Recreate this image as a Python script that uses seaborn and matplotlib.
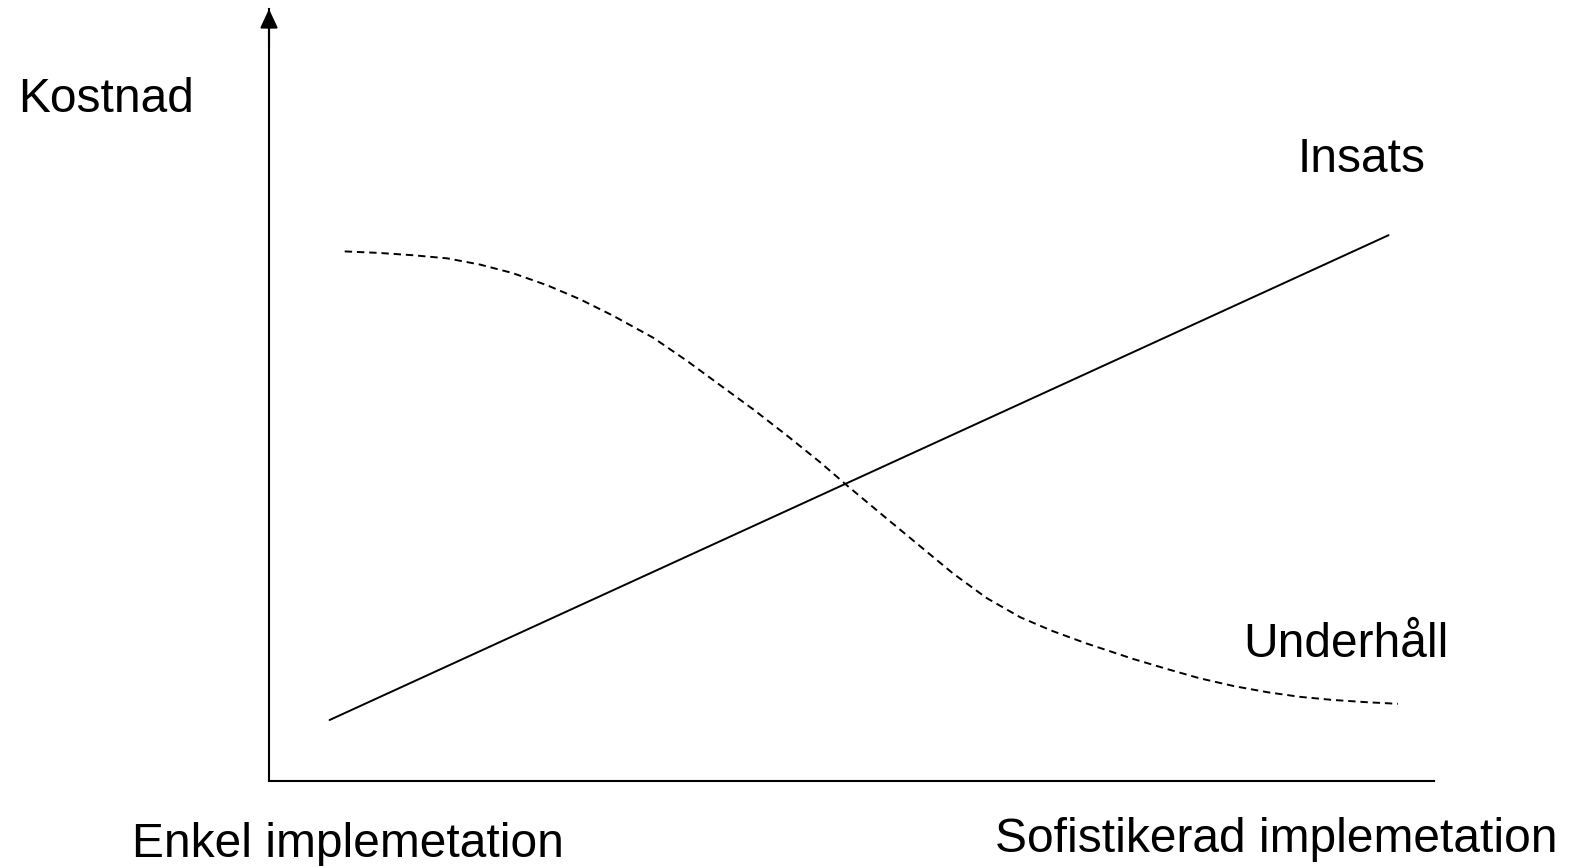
import pandas as pd
import seaborn as sns
from matplotlib import pyplot as plt

# sketch values, x = how sophisticated the implementation is, y = cost (0-100)
insats_x = [5.2, 96.1]
insats_y = [7.9, 70.7]

underhall_x = [6.5, 9.5, 12.4, 15.3, 18.1, 20.9, 23.9, 26.7, 29.5, 33.0,
               35.9, 38.7, 41.6, 44.5, 47.3, 49.6, 53.1, 55.9, 58.7, 61.6,
               64.5, 67.3, 70.2, 74.2, 77.1, 79.9, 82.8, 85.7, 88.5, 91.3,
               94.3, 96.9]
underhall_y = [68.6, 68.4, 68.1, 67.7, 66.9, 65.8, 64.2, 62.4, 60.3, 57.4,
               54.4, 51.3, 48.1, 44.7, 41.3, 38.3, 33.9, 30.4, 26.9, 23.7,
               21.2, 19.4, 17.8, 15.8, 14.5, 13.3, 12.3, 11.5, 10.9, 10.5,
               10.2, 10.0]

y_label = "Kostnad"
x_left_label = "Enkel implemetation"
x_right_label = "Sofistikerad implemetation"
line_labels = ["Insats", "Underhåll"]


def main():
    sns.set_theme(style="white")
    plt.rcParams['font.family'] = ['Liberation Sans', 'DejaVu Sans']

    W, H = 1571, 866
    fig = plt.figure(figsize=(W / 100, H / 100), dpi=100)
    ax = fig.add_axes([269 / W, (H - 781) / H, (1434 - 269) / W, (781 - 9) / H])

    insats = pd.DataFrame({"x": insats_x, "y": insats_y})
    underhall = pd.DataFrame({"x": underhall_x, "y": underhall_y})

    sns.lineplot(ax=ax, data=insats, x="x", y="y", color="black", linewidth=1.4)
    sns.lineplot(ax=ax, data=underhall, x="x", y="y", color="black", linewidth=1.4,
                 linestyle=(0, (3.8, 2.5)))

    ax.set_xlim(0, 100)
    ax.set_ylim(0, 100)
    ax.set_xticks([])
    ax.set_yticks([])
    ax.set_xlabel("")
    ax.set_ylabel("")
    for side in ["top", "right"]:
        ax.spines[side].set_visible(False)
    for side in ["left", "bottom"]:
        ax.spines[side].set_color("black")
        ax.spines[side].set_linewidth(1.5)

    # arrow head on top of the y axis
    ax.annotate("", xy=(0, 1), xytext=(0, 0.95), xycoords="axes fraction",
                arrowprops=dict(arrowstyle="-|>,head_length=0.58,head_width=0.27",
                                mutation_scale=20, color="black", lw=1.5,
                                shrinkA=0, shrinkB=0))

    fs = 34.5
    kw = dict(fontsize=fs, va="baseline", ha="left", color="black")
    fig.text(18 / W, 1 - 112 / H, y_label, **kw)
    fig.text(1298 / W, 1 - 172 / H, line_labels[0], **kw)
    fig.text(1243 / W, 1 - 657 / H, line_labels[1], **kw)
    fig.text(132 / W, 1 - 857 / H, x_left_label, **kw)
    fig.text(995 / W, 1 - 852 / H, x_right_label, **kw)

    fig.savefig("out.png", dpi=100, facecolor="white")


if __name__ == '__main__':
    main()
